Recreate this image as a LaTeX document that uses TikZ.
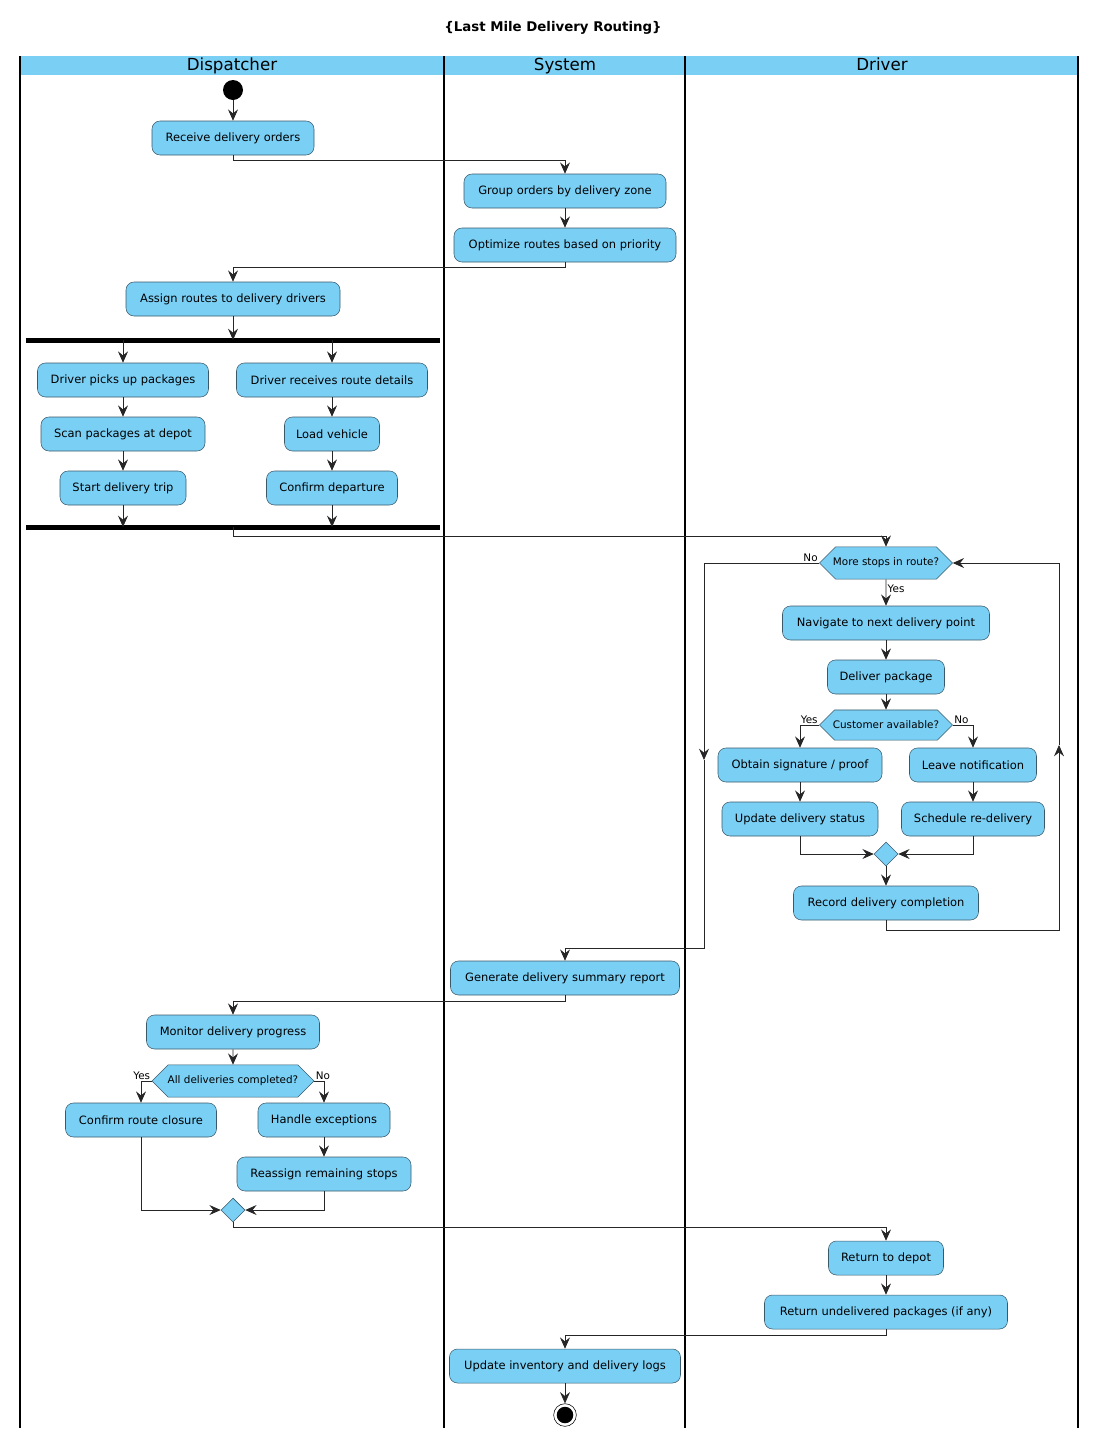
\documentclass[tikz,border=0pt]{standalone}
\usepackage{fontspec}
\setmainfont{DejaVu Sans}
\usepackage[HTML]{xcolor}
\usetikzlibrary{positioning, arrows.meta, shapes.misc, shapes.geometric}
\definecolor{actfill}{HTML}{7ACFF5}
\definecolor{actline}{HTML}{3A5A6A}

\tikzset{
  act/.style={draw=actline, fill=actfill, rounded corners=6pt, minimum height=25.5pt,
    minimum width=#1*0.75pt, inner sep=0pt, font=\fontsize{8.6}{10}\selectfont},
  dec/.style={draw=actline, fill=actfill, chamfered rectangle, chamfered rectangle xsep=7pt,
    chamfered rectangle ysep=8.25pt, minimum height=16.5pt, minimum width=#1*0.75pt,
    inner sep=0pt, font=\fontsize{7.8}{9}\selectfont},
  merge/.style={draw=actline, fill=actfill, diamond, minimum size=18pt, inner sep=0pt},
  lbl/.style={font=\fontsize{7.8}{9}\selectfont, inner sep=1pt},
  flow/.style={-{Stealth[length=8.5pt,width=7.5pt,inset=3pt]}, draw=black!85, semithick},
  lane/.style={font=\fontsize{12.5}{14}\selectfont, text height=9pt, text depth=2.5pt},
}

\begin{document}
\begin{tikzpicture}[x=0.75pt, y=-0.75pt]
\useasboundingbox (0,0) rectangle (1106,1446);
% --- lanes ---
\fill[actfill] (20,56) rectangle (1078,75);
\foreach \xx in {20,444,685,1078}{
\draw[thick] (\xx,56) -- (\xx,1428);
}
\node[font=\bfseries\fontsize{10}{12}\selectfont] (title) at (553,28) {\{Last Mile Delivery Routing\}};
\node[lane] (dispatcher) at (232,66) {Dispatcher};
\node[lane] (system) at (565,66) {System};
\node[lane] (driver) at (882,66) {Driver};

% --- nodes ---
\node[circle, fill=black, minimum size=15pt, inner sep=0pt] (start) at (233,90) {};
\node[act=162] (recv) at (233,138) {Receive delivery orders};
\node[act=202] (group) at (565,191) {Group orders by delivery zone};
\node[act=222] (optim) at (565,245) {Optimize routes based on priority};
\node[act=214] (assign) at (233,299) {Assign routes to delivery drivers};
\fill (26,337.5) rectangle (440,342.5);
\coordinate (forkL) at (123,340); \coordinate (forkR) at (332,340);
\node[act=171] (picks) at (123,380) {Driver picks up packages};
\node[act=191] (routeinfo) at (332,380) {Driver receives route details};
\node[act=164] (scan) at (123,434) {Scan packages at depot};
\node[act=95] (load) at (332,434) {Load vehicle};
\node[act=126] (trip) at (123,488) {Start delivery trip};
\node[act=131] (depart) at (332,488) {Confirm departure};
\fill (26,524.5) rectangle (440,529.5);
\coordinate (joinL) at (123,527); \coordinate (joinR) at (332,527); \coordinate (joinM) at (233,527);

\node[dec=133] (more) at (886,563) {More stops in route?};
\node[act=207] (navi) at (886,623) {Navigate to next delivery point};
\node[act=117] (deliver) at (886,677) {Deliver package};
\node[dec=133] (cust) at (886,725) {Customer available?};
\node[act=164] (sign) at (800,765) {Obtain signature / proof};
\node[act=127] (notify) at (973,765) {Leave notification};
\node[act=156] (status) at (800,819) {Update delivery status};
\node[act=143] (resched) at (973,819) {Schedule re-delivery};
\node[merge] (mrg1) at (886,854) {};
\node[act=185] (record) at (886,903) {Record delivery completion};

\node[act=229] (report) at (565,978) {Generate delivery summary report};
\node[act=173] (monitor) at (233,1032) {Monitor delivery progress};
\node[dec=162] (alldone) at (233,1081) {All deliveries completed?};
\node[act=151] (closure) at (141,1120) {Confirm route closure};
\node[act=132] (handle) at (324,1120) {Handle exceptions};
\node[act=174] (reassign) at (324,1174) {Reassign remaining stops};
\node[merge] (mrg2) at (233,1210) {};
\node[act=115] (ret) at (886,1258) {Return to depot};
\node[act=243] (undeliv) at (886,1312) {Return undelivered packages (if any)};
\node[act=231] (invent) at (565,1366) {Update inventory and delivery logs};
\node[circle, draw=black, fill=white, minimum size=17pt, inner sep=0pt] (stop) at (565,1415) {};
\fill (stop) circle (6.2pt);

% --- connectors ---
\draw[flow] (start) -- (recv);
\draw[flow] (recv.south) -- ++(0,5) -| (group.north);
\draw[flow] (group) -- (optim);
\draw[flow] (optim.south) -- ++(0,5) -| (assign.north);
\draw[flow] (assign) -- (233,340);
\draw[flow] (forkL) -- (picks); \draw[flow] (forkR) -- (routeinfo);
\draw[flow] (picks) -- (scan); \draw[flow] (scan) -- (trip);
\draw[flow] (routeinfo) -- (load); \draw[flow] (load) -- (depart);
\draw[flow] (trip) -- (joinL); \draw[flow] (depart) -- (joinR);
\draw[flow] (joinM) -- ++(0,9) -| (more.north);
\draw[flow] (more) -- (navi) node[lbl, pos=0.35, right] {Yes};
\node[lbl, anchor=south east] at (more.west) {No};
\coordinate (noarr) at (704,760);
\draw[flow] (more.west) -| (noarr);
\draw[flow] (noarr) |- (565,948) -- (report.north);
\draw[flow] (navi) -- (deliver);
\draw[flow] (deliver) -- (cust);
\draw[flow] (cust.west) -| (sign.north);
\draw[flow] (cust.east) -| (notify.north);
\node[lbl, anchor=south east] at (cust.west) {Yes};
\node[lbl, anchor=south west] at (cust.east) {No};
\draw[flow] (sign) -- (status);
\draw[flow] (notify) -- (resched);
\draw[flow] (status.south) |- (mrg1.west);
\draw[flow] (resched.south) |- (mrg1.east);
\draw[flow] (mrg1) -- (record);
\coordinate (looparr) at (1059,745);
\draw[flow] (record.south) -- ++(0,10) -| (looparr);
\draw[flow] (looparr) |- (more.east);
\draw[flow] (report.south) -- ++(0,6) -| (monitor.north);
\draw[flow] (monitor) -- (alldone);
\draw[flow] (alldone.west) -| (closure.north);
\draw[flow] (alldone.east) -| (handle.north);
\node[lbl, anchor=south east] at (alldone.west) {Yes};
\node[lbl, anchor=south west] at (alldone.east) {No};
\draw[flow] (handle) -- (reassign);
\draw[flow] (closure.south) |- (mrg2.west);
\draw[flow] (reassign.south) |- (mrg2.east);
\draw[flow] (mrg2.south) -- ++(0,5) -| (ret.north);
\draw[flow] (ret) -- (undeliv);
\draw[flow] (undeliv.south) -- ++(0,6) -| (invent.north);
\draw[flow] (invent) -- (stop);
\end{tikzpicture}
\end{document}
